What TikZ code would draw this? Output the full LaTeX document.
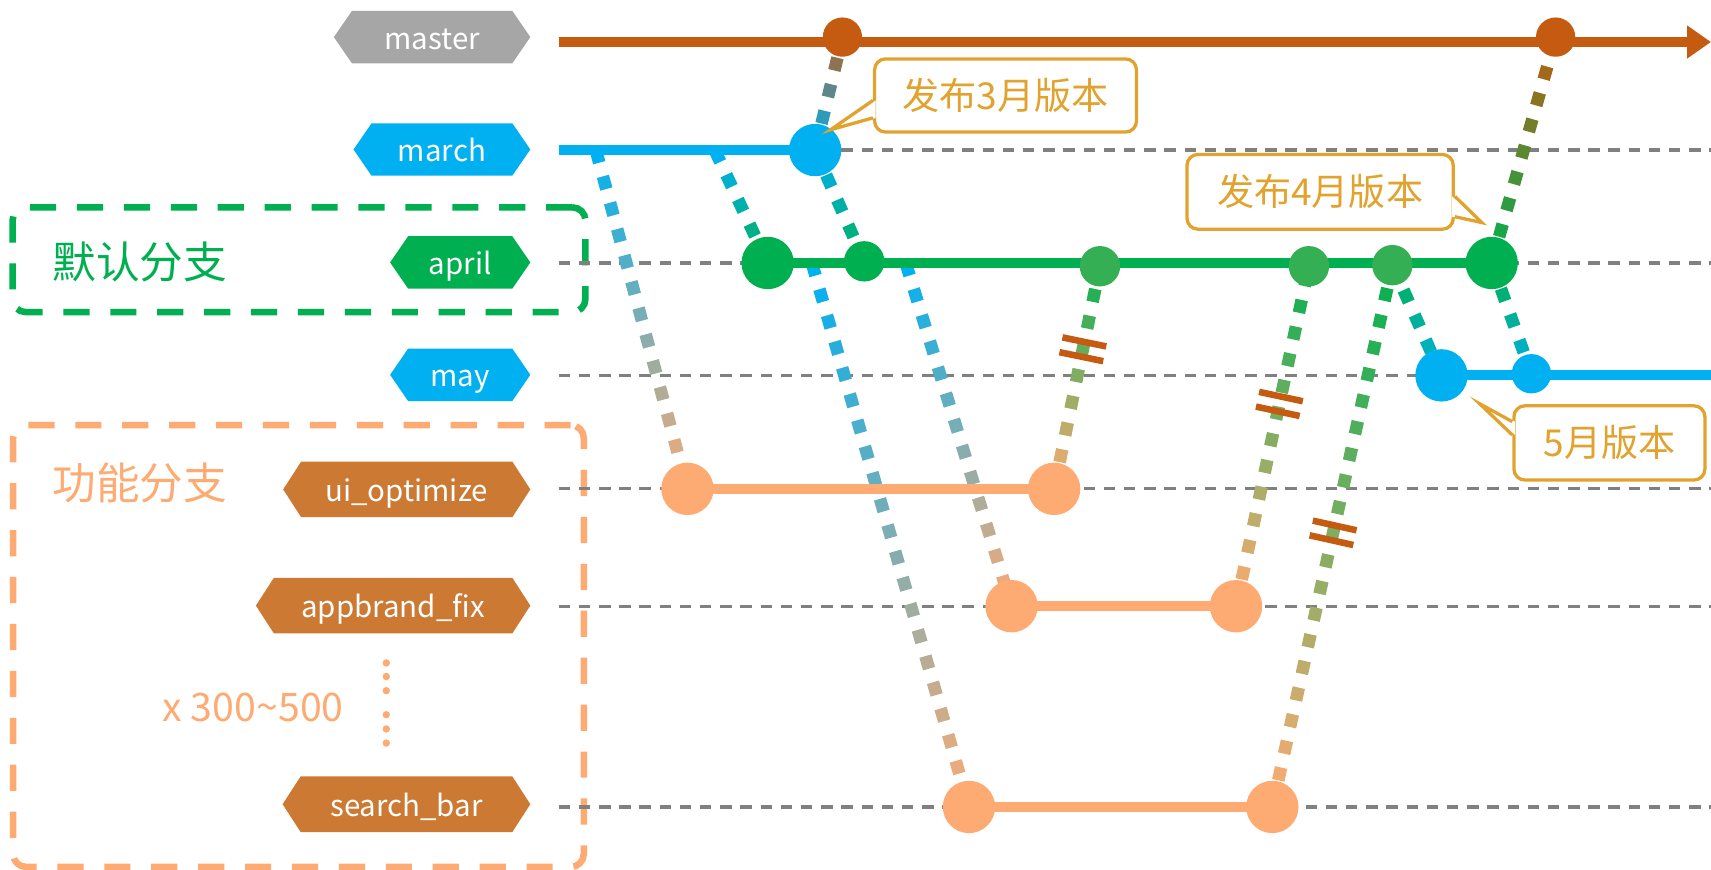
\documentclass[tikz,border=0pt]{standalone}
\usepackage{fontspec}
\setmainfont{Noto Sans CJK SC}
\usetikzlibrary{arrows.meta,calc,decorations.markings}

\definecolor{cmaster}{HTML}{C55A11}
\definecolor{cblue}{HTML}{00B0F0}
\definecolor{cgreen}{HTML}{00B050}
\definecolor{cgreenl}{HTML}{35AF54}
\definecolor{cfeat}{HTML}{FDAB73}
\definecolor{clabel}{HTML}{CC7934}
\definecolor{cgraylbl}{HTML}{A6A6A6}
\definecolor{ccall}{HTML}{E1A22E}
\definecolor{cgrid}{HTML}{808080}

\tikzset{
  gridline/.style={draw=cgrid, line width=3pt, dash pattern=on 10.5pt off 8pt},
  branchline/.style={line width=9pt},
  commit/.style={circle, inner sep=0pt, minimum size=#1},
  lbltext/.style={text=white, font=\fontsize{27}{32}\selectfont, text height=22pt, text depth=0pt, inner sep=0pt},
  grpbox/.style={rectangle, rounded corners=12pt, line width=6pt, dash pattern=on 24pt off 19pt, inner sep=0pt},
  grptext/.style={font=\fontsize{40}{46}\selectfont, inner sep=0pt},
  cbox/.style={draw=ccall, line width=3pt, fill=white, rounded corners=10pt, text=ccall, font=\fontsize{34}{40}\selectfont, inner sep=0pt},
  ctail/.style={draw=ccall, line width=3pt, line join=miter},
  gradconn/.style 2 args={decoration={markings, mark=between positions 0 and 1 step 25pt with {%
      \pgfmathsetmacro\gf{(\pgfkeysvalueof{/pgf/decoration/mark info/distance from start})/(\pgfdecoratedpathlength)}%
      \pgfmathtruncatemacro\gp{100-100*\gf}%
      \draw[line width=11.5pt, line cap=butt, color=#1!\gp!#2] (0pt,0pt) -- (12pt,0pt);}}, postaction=decorate},
  mergebar/.style={decoration={markings, mark=at position #1 with {%
      \draw[line width=6pt, draw=cmaster] (-6.9pt,-20.5pt) -- (-6.9pt,20.5pt) (6.9pt,-20.5pt) -- (6.9pt,20.5pt);}}, postaction=decorate}
}

\newcommand\mkhexlabel[6]{%
  \fill[#5] (#2,#3) -- (#2+16.5,#3-#4) -- (469.5,#3-#4) -- (486,#3) -- (469.5,#3+#4) -- (#2+16.5,#3+#4) -- cycle;
  \node[lbltext] (#1) at ({(#2+486)/2},#3) {#6};
}

\begin{document}
\begin{tikzpicture}[x=1pt,y=-1pt]
\useasboundingbox (0,0) rectangle (1568,797);

% group boxes
\node[grpbox, draw=cgreen, minimum width=525pt, minimum height=96pt] (gdefault) at (274,238) {};
\node[grpbox, draw=cfeat, minimum width=523pt, minimum height=405pt] (gfeature) at (273.5,592) {};
\node[grptext, text=cgreen] (tdefault) at (128,240.5) {默认分支};
\node[grptext, text=cfeat] (tfeature) at (128,443) {功能分支};
\node[font=\fontsize{36}{42}\selectfont, text=cfeat, inner sep=0pt] (tcount) at (232,648.4) {x 300\textasciitilde500};
\foreach \yy in {607.5,620,633,655,668,681} \fill[cfeat] (354,\yy) circle (3.4);

% branch labels
\mkhexlabel{lmaster}{306}{34}{24}{cgraylbl}{master}
\mkhexlabel{lmarch}{324}{137}{24}{cblue}{march}
\mkhexlabel{lapril}{357.5}{240.5}{24}{cgreen}{april}
\mkhexlabel{lmay}{357.5}{343.5}{24}{cblue}{may}
\mkhexlabel{lui}{259.5}{448.5}{25.5}{clabel}{ui\_optimize}
\mkhexlabel{lapp}{234.5}{555}{25.5}{clabel}{appbrand\_fix}
\mkhexlabel{lsearch}{259}{737}{25.5}{clabel}{search\_bar}

% row coordinates
\coordinate (ms) at (512,38.5);  \coordinate (me) at (1568,38.5);
\foreach \nm/\yy in {gr1/137.5,gr2/241,gr3/344,gr4/448,gr5/555.5,gr6/739.5}{
  \coordinate (\nm s) at (512,\yy); \coordinate (\nm e) at (1568,\yy);
  \draw[gridline] (\nm s) -- (\nm e);
}

% commits (positions)
\path
  (772,34) coordinate (pm1) (1425.6,34) coordinate (pm2)
  (747,137.5) coordinate (pr1)
  (703.5,241) coordinate (pa1) (792,239.5) coordinate (pa2) (1008,244) coordinate (pa3)
  (1199.5,244) coordinate (pa4) (1276,243) coordinate (pa5) (1367,241) coordinate (pa6)
  (1321,344) coordinate (py1) (1403.4,342.5) coordinate (py2)
  (630,448) coordinate (pu1) (966,448) coordinate (pu2)
  (927,555.5) coordinate (pp1) (1132.7,555.5) coordinate (pp2)
  (888,739.5) coordinate (ps1) (1166,739.5) coordinate (ps2);

\coordinate (mb1) at (546,137.5);
\coordinate (mb2) at (655,137.5);
\coordinate (ab1) at (744,241);
\coordinate (ab2) at (830,241);
\coordinate (ye) at (1568,344);

% dotted gradient connectors
\path[gradconn={cblue}{cfeat}] (mb1) -- (pu1);
\path[gradconn={cblue}{cgreen}] (mb2) -- (pa1);
\path[gradconn={cblue}{cmaster}] (pr1) -- (pm1);
\path[gradconn={cblue}{cgreen}] (pr1) -- (pa2);
\path[gradconn={cblue}{cfeat}] (ab1) -- (ps1);
\path[gradconn={cblue}{cfeat}] (ab2) -- (pp1);
\path[gradconn={cfeat}{cgreen}] (pu2) -- (pa3);
\path[gradconn={cfeat}{cgreen}] (pp2) -- (pa4);
\path[gradconn={cfeat}{cgreen}] (ps2) -- (pa5);
\path[gradconn={cgreen}{cblue}] (pa5) -- (py1);
\path[gradconn={cgreen}{cblue}] (pa6) -- (py2);
\path[gradconn={cgreen}{cmaster}] (pa6) -- (pm2);

% conflict marks
\path[mergebar=0.627] (pu2) -- (pa3);
\path[mergebar=0.595] (pp2) -- (pa4);
\path[mergebar=0.506] (ps2) -- (pa5);

% solid branch lines
\draw[line width=10pt, cmaster, -{Triangle[length=22pt,width=29pt]}] (ms) -- (me);
\draw[branchline, cblue] (gr1s) -- (pr1);
\draw[branchline, cgreen] (pa1) -- (pa6);
\draw[branchline, cblue] (py1) -- (ye);
\draw[branchline, cfeat] (pu1) -- (pu2);
\draw[branchline, cfeat] (pp1) -- (pp2);
\draw[branchline, cfeat] (ps1) -- (ps2);

% commit dots
\node[commit=36pt, fill=cmaster] (m1) at (pm1) {};
\node[commit=36pt, fill=cmaster] (m2) at (pm2) {};
\node[commit=48pt, fill=cblue] (r1) at (pr1) {};
\node[commit=48pt, fill=cgreen] (a1) at (pa1) {};
\node[commit=37pt, fill=cgreen] (a2) at (pa2) {};
\node[commit=37pt, fill=cgreenl] (a3) at (pa3) {};
\node[commit=37pt, fill=cgreenl] (a4) at (pa4) {};
\node[commit=37pt, fill=cgreenl] (a5) at (pa5) {};
\node[commit=48pt, fill=cgreen] (a6) at (pa6) {};
\node[commit=48pt, fill=cblue] (y1) at (py1) {};
\node[commit=36pt, fill=cblue] (y2) at (py2) {};
\node[commit=48pt, fill=cfeat] (u1) at (pu1) {};
\node[commit=48pt, fill=cfeat] (u2) at (pu2) {};
\node[commit=48pt, fill=cfeat] (p1) at (pp1) {};
\node[commit=48pt, fill=cfeat] (p2) at (pp2) {};
\node[commit=48pt, fill=cfeat] (s1) at (ps1) {};
\node[commit=48pt, fill=cfeat] (s2) at (ps2) {};

% callouts
\node[cbox, minimum width=240pt, minimum height=67pt] (c3) at (921.5,87.5) {发布3月版本};
\coordinate (t3) at (761,119);
\fill[white] ($(c3.west)+(2.5,4.5)$) -- (t3) -- ($(c3.west)+(2.5,20.5)$) -- cycle;
\draw[ctail] ($(c3.west)+(0,4.5)$) -- (t3) -- ($(c3.west)+(0,20.5)$);

\node[cbox, minimum width=244pt, minimum height=68.5pt] (c4) at (1209.8,175.8) {发布4月版本};
\coordinate (t4) at (1358,204);
\fill[white] ($(c4.east)+(-2.5,4.2)$) -- (t4) -- ($(c4.east)+(-2.5,22.8)$) -- cycle;
\draw[ctail] ($(c4.east)+(0,4.2)$) -- (t4) -- ($(c4.east)+(0,22.8)$);

\node[cbox, minimum width=175pt, minimum height=68pt] (c5) at (1474.9,405.9) {5月版本};
\coordinate (t5) at (1356,370);
\fill[white] ($(c5.west)+(2.5,-19.5)$) -- (t5) -- ($(c5.west)+(2.5,-7.3)$) -- cycle;
\draw[ctail] ($(c5.west)+(0,-19.5)$) -- (t5) -- ($(c5.west)+(0,-7.3)$);

\end{tikzpicture}
\end{document}
